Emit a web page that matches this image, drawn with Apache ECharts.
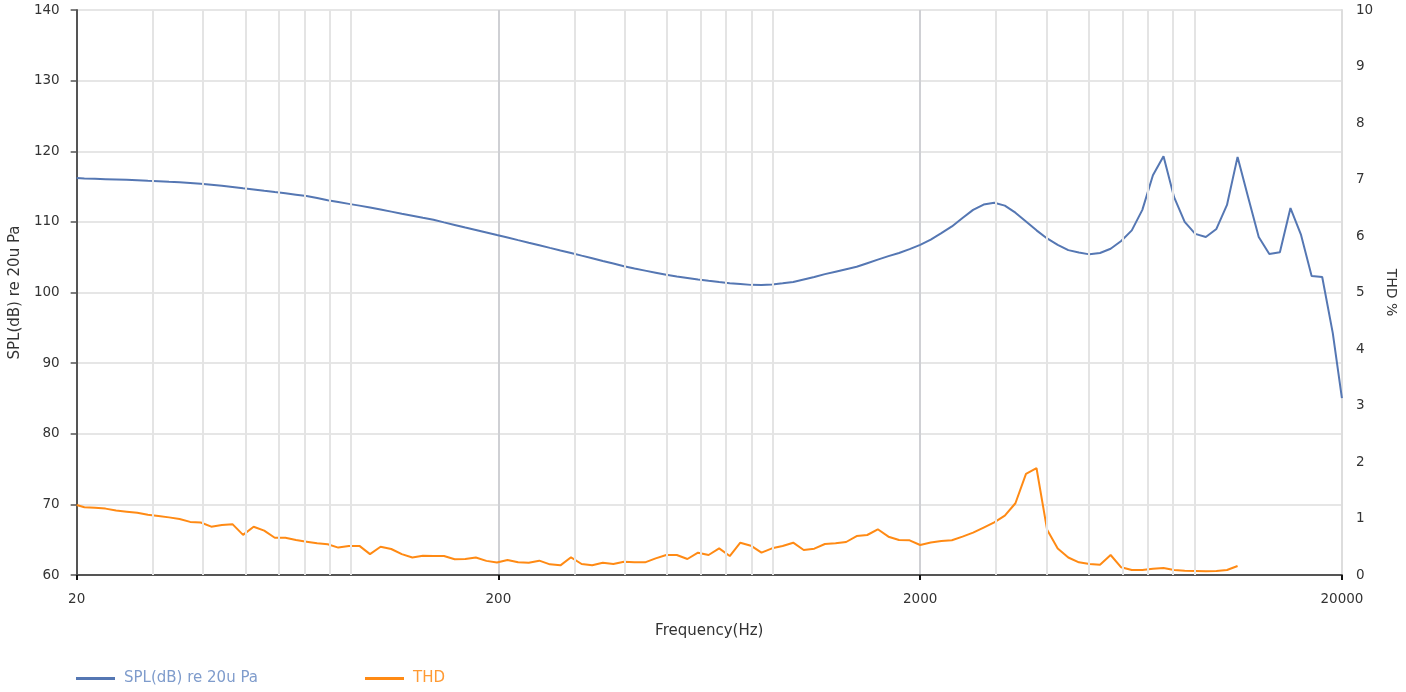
<!DOCTYPE html>
<html><head><meta charset="utf-8">
<script src="https://cdn.jsdelivr.net/npm/echarts@6/dist/echarts.min.js"></script>
<style>html,body{margin:0;padding:0;background:#fff}#c{width:1406px;height:692px}</style>
</head><body><div id="c"></div><script>
// Frequencies (Hz), 1/12-octave points
const freqs = [20, 20.86, 22.10, 23.41, 24.80, 26.28, 27.84, 29.50,
  31.25, 33.11, 35.08, 37.16, 39.37, 41.71, 44.19, 46.82, 49.61, 52.56, 55.68, 58.99,
  62.5, 66.22, 70.15, 74.33, 78.75, 83.43, 88.39, 93.64, 99.21, 105.1, 111.4, 118.0,
  125, 132.4, 140.3, 148.6, 157.5, 166.9, 176.8, 187.3, 198.4, 210.2, 222.7, 236.0,
  250, 264.9, 280.6, 297.3, 315.0, 333.7, 353.6, 374.6, 396.9, 420.4, 445.4, 471.9,
  500, 529.7, 561.2, 594.6, 630.0, 667.4, 707.1, 749.2, 793.7, 840.9, 890.9, 943.9,
  1000, 1059, 1122, 1189, 1260, 1335, 1414, 1498, 1587, 1682, 1782, 1888,
  2000, 2119, 2245, 2378, 2520, 2670, 2828, 2997, 3175, 3364, 3564, 3775,
  4000, 4238, 4490, 4757, 5040, 5339, 5657, 5993, 6350, 6727, 7127, 7551,
  8000, 8476, 8980, 9514, 10079, 10679, 11314, 11986, 12699, 13454, 14254, 15102,
  16000, 16951, 17959, 19027, 20000];

// SPL(dB) re 20u Pa
const spl = [116.2, 116.15, 116.1, 116.05, 116.0, 115.95, 115.9, 115.82,
  115.75, 115.67, 115.6, 115.5, 115.4, 115.25, 115.1, 114.95, 114.77, 114.6, 114.4, 114.22,
  114.05, 113.85, 113.65, 113.37, 113.05, 112.8, 112.55, 112.3, 112.03, 111.75, 111.45, 111.15,
  110.87, 110.58, 110.3, 109.93, 109.57, 109.2, 108.85, 108.5, 108.15, 107.8, 107.42, 107.05,
  106.7, 106.32, 105.95, 105.6, 105.22, 104.85, 104.47, 104.1, 103.72, 103.4, 103.1, 102.8,
  102.5, 102.27, 102.05, 101.83, 101.65, 101.48, 101.32, 101.2, 101.08, 101.05, 101.12, 101.3,
  101.5, 101.85, 102.2, 102.6, 102.95, 103.3, 103.65, 104.15, 104.65, 105.15, 105.6, 106.15,
  106.75, 107.5, 108.4, 109.35, 110.55, 111.7, 112.45, 112.7, 112.3, 111.3, 110.05, 108.8,
  107.65, 106.75, 106.0, 105.65, 105.4, 105.6, 106.2, 107.3, 108.8, 111.7, 116.6, 119.3,
  113.5, 110.0, 108.3, 107.85, 109.0, 112.4, 119.2, 113.5, 107.85, 105.45, 105.7, 111.95,
  108.15, 102.35, 102.2, 94.25, 85.05];

// THD % (measured up to ~11.3 kHz)
const thd = [1.24, 1.20, 1.19, 1.175, 1.14, 1.12, 1.10, 1.065,
  1.045, 1.02, 0.99, 0.94, 0.93, 0.855, 0.885, 0.90, 0.71, 0.855, 0.785, 0.66,
  0.66, 0.62, 0.59, 0.56, 0.545, 0.485, 0.515, 0.515, 0.37, 0.50, 0.46, 0.37,
  0.31, 0.34, 0.335, 0.335, 0.28, 0.285, 0.31, 0.25, 0.22, 0.265, 0.224, 0.218,
  0.254, 0.189, 0.171, 0.313, 0.195, 0.171, 0.218, 0.195, 0.236, 0.224, 0.224, 0.295,
  0.354, 0.354, 0.283, 0.395, 0.354, 0.472, 0.336, 0.572, 0.519, 0.395, 0.472, 0.513,
  0.572, 0.442, 0.466, 0.549, 0.561, 0.584, 0.69, 0.708, 0.809, 0.678, 0.619, 0.614,
  0.531, 0.575, 0.60, 0.614, 0.68, 0.75, 0.84, 0.93, 1.05, 1.27, 1.79, 1.89,
  0.80, 0.47, 0.31, 0.225, 0.195, 0.183, 0.354, 0.136, 0.088, 0.088, 0.112, 0.124,
  0.088, 0.076, 0.071, 0.065, 0.071, 0.088, 0.159];

const xTickLabels = ['20', '200', '2000', '20000'];
const minorGridFreqs = [30, 40, 50, 60, 70, 80, 90, 300, 400, 500, 600, 700, 800, 900,
  3000, 4000, 5000, 6000, 7000, 8000, 9000];
const names = { spl: 'SPL(dB) re 20u Pa', thd: 'THD' };
const colors = { spl: '#5577b3', thd: '#ff8a14', splText: '#7f9ccc', thdText: '#ff9a33' };

// log-frequency scale helper (decades above 20 Hz)
const lx = f => Math.log10(f / 20);

const FONT = 'DejaVu Sans';
const chart = echarts.init(document.getElementById('c'), null, { renderer: 'canvas' });
chart.setOption({
  animation: false,
  backgroundColor: '#fff',
  textStyle: { fontFamily: FONT },
  grid: { left: 76, right: 63, top: 10, bottom: 117, containLabel: false },
  legend: [
    { left: 76, top: 671, padding: 0, icon: 'rect', itemWidth: 39, itemHeight: 3,
      data: [{ name: names.spl, textStyle: { color: colors.splText } }],
      textStyle: { fontFamily: FONT, fontSize: 15, padding: [0, 0, 0, 4] } },
    { left: 365, top: 671, padding: 0, icon: 'rect', itemWidth: 39, itemHeight: 3,
      data: [{ name: names.thd, textStyle: { color: colors.thdText } }],
      textStyle: { fontFamily: FONT, fontSize: 15, padding: [0, 0, 0, 4] } }
  ],
  xAxis: {
    type: 'value', min: 0, max: 3, interval: 1,
    name: 'Frequency(Hz)', nameLocation: 'middle', nameGap: 49,
    nameTextStyle: { color: '#333', fontSize: 15, fontFamily: FONT },
    axisLine: { lineStyle: { color: '#555', width: 2 } },
    axisTick: { show: true, length: 5, lineStyle: { color: '#111', width: 2 } },
    axisLabel: { color: '#333', fontSize: 13.5, margin: 17, fontFamily: FONT,
      formatter: v => xTickLabels[Math.round(v)] },
    splitLine: { show: true, lineStyle: { color: '#cfd0d4', width: 2 } }
  },
  yAxis: [
    { type: 'value', min: 60, max: 140, interval: 10, position: 'left',
      name: names.spl, nameLocation: 'middle', nameGap: 48,
      nameTextStyle: { color: '#333', fontSize: 15, fontFamily: FONT },
      axisLine: { show: true, lineStyle: { color: '#555', width: 2 } },
      axisTick: { show: true, length: 6, lineStyle: { color: '#555', width: 1.5 } },
      axisLabel: { color: '#333', fontSize: 13.5, margin: 17, fontFamily: FONT },
      splitLine: { show: true, lineStyle: { color: '#e6e6e6', width: 2 } } },
    { type: 'value', min: 0, max: 10, interval: 1, position: 'right',
      name: 'THD %', nameLocation: 'middle', nameGap: 40, nameRotate: -90,
      nameTextStyle: { color: '#333', fontSize: 14, fontFamily: FONT },
      axisLine: { show: true, lineStyle: { color: '#dddddd', width: 2 } },
      axisTick: { show: false },
      axisLabel: { color: '#333', fontSize: 13.5, margin: 14, fontFamily: FONT },
      splitLine: { show: false } }
  ],
  series: [
    { name: 'grid', type: 'line', data: [], silent: true, z: 1,
      markLine: { silent: true, symbol: ['none', 'none'], label: { show: false },
        animation: false,
        lineStyle: { color: '#e4e4e4', width: 2, type: 'solid' },
        emphasis: { disabled: true },
        data: minorGridFreqs.map(f => ({ xAxis: lx(f) })) } },
    { name: names.spl, type: 'line', yAxisIndex: 0, showSymbol: false, z: 3,
      lineStyle: { color: colors.spl, width: 2 }, itemStyle: { color: colors.spl },
      data: freqs.map((f, i) => [lx(f), spl[i]]) },
    { name: names.thd, type: 'line', yAxisIndex: 1, showSymbol: false, z: 3,
      lineStyle: { color: colors.thd, width: 2 }, itemStyle: { color: colors.thd },
      data: thd.map((v, i) => [lx(freqs[i]), v]) }
  ]
});
</script></body></html>
